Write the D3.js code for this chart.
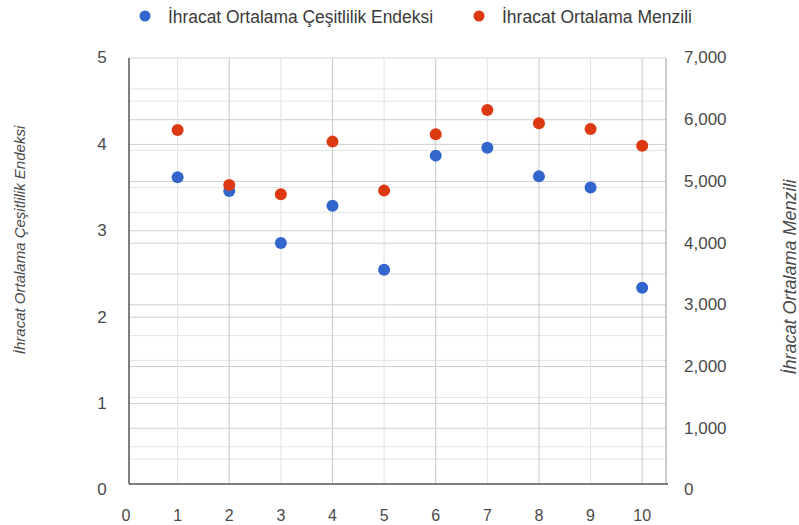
<!DOCTYPE html>
<html><head><meta charset="utf-8">
<script src="https://cdn.jsdelivr.net/npm/d3@7"></script>
<style>body{margin:0;background:#fff}svg{display:block}text{font-family:"Liberation Sans",Arial,sans-serif}</style>
</head><body>
<script>
const categories = [1,2,3,4,5,6,7,8,9,10];
const cesitlilik = [3.62,3.46,2.86,3.29,2.55,3.87,3.96,3.63,3.50,2.34];
const menzil = [5835,4943,4792,5645,4851,5765,6159,5943,5851,5580];
const xTicks = [0,1,2,3,4,5,6,7,8,9,10];
const leftTicks = [0,1,2,3,4,5];
const rightTicks = [0,1000,2000,3000,4000,5000,6000,7000];
const seriesNames = ["İhracat Ortalama Çeşitlilik Endeksi","İhracat Ortalama Menzili"];
const colors = ["#3366cc","#dc3912"];

(function(){
const W=799,H=525;
const svg=d3.select("body").append("svg").attr("width",W).attr("height",H);
const x=d3.scaleLinear().domain([0,10.5]).range([126,668]);
const yL=d3.scaleLinear().domain([0,5]).range([490,58]);
const yR=d3.scaleLinear().domain([0,7000]).range([490,58]);
const pL=129,pR=666,pT=58,pB=484;

const g=svg.append("g");
const minorL=d3.range(0.5,5,1), minorR=d3.range(500,7000,1000);
g.selectAll(".ml").data(minorL).join("line").attr("x1",pL).attr("x2",pR)
 .attr("y1",d=>yL(d)).attr("y2",d=>yL(d)).attr("stroke","#e4e4e4");
g.selectAll(".mr").data(minorR).join("line").attr("x1",pL).attr("x2",pR)
 .attr("y1",d=>yR(d)).attr("y2",d=>yR(d)).attr("stroke","#e4e4e4");
g.selectAll(".gl").data(leftTicks.slice(1,5)).join("line").attr("x1",pL).attr("x2",pR)
 .attr("y1",d=>yL(d)).attr("y2",d=>yL(d)).attr("stroke","#cfcfcf");
g.selectAll(".gr").data(rightTicks.slice(1,7)).join("line").attr("x1",pL).attr("x2",pR)
 .attr("y1",d=>yR(d)).attr("y2",d=>yR(d)).attr("stroke","#cfcfcf");
g.selectAll(".v").data(categories).join("line").attr("x1",d=>x(d)).attr("x2",d=>x(d))
 .attr("y1",pT).attr("y2",pB).attr("stroke",d=>d%2===0?"#c8c8c8":"#e2e2e2");
g.append("line").attr("x1",pL).attr("x2",pR).attr("y1",pT).attr("y2",pT).attr("stroke","#d6d6d6");
g.append("line").attr("x1",pR).attr("x2",pR).attr("y1",pT).attr("y2",pB).attr("stroke","#9a9a9a");
g.append("line").attr("x1",pL).attr("x2",pL).attr("y1",pT).attr("y2",pB).attr("stroke","#555").attr("stroke-width",1.5);
g.append("line").attr("x1",pL).attr("x2",pR+2).attr("y1",pB).attr("y2",pB).attr("stroke","#555").attr("stroke-width",1.5);

const tc="#4a4a4a";
svg.selectAll(".tx").data(xTicks).join("text").attr("x",d=>x(d)).attr("y",521)
 .attr("text-anchor","middle").attr("font-size",16).attr("fill",tc).text(d=>d);
svg.selectAll(".tl").data(leftTicks).join("text").attr("x",102).attr("y",d=>yL(d)+1)
 .attr("text-anchor","middle").attr("dominant-baseline","middle").attr("font-size",17).attr("fill",tc).text(d=>d);
const fmt=d3.format(",");
svg.selectAll(".tr").data(rightTicks).join("text").attr("x",684).attr("y",d=>yR(d)+1)
 .attr("text-anchor","start").attr("dominant-baseline","middle").attr("font-size",17).attr("fill",tc).text(d=>fmt(d));

svg.append("text").attr("transform","translate(25,240) rotate(-90)").attr("text-anchor","middle")
 .attr("font-size",15).attr("font-style","italic").attr("fill",tc).text("İhracat Ortalama Çeşitlilik Endeksi");
svg.append("text").attr("transform","translate(796,277) rotate(-90)").attr("text-anchor","middle")
 .attr("font-size",18).attr("font-style","italic").attr("fill",tc).text("İhracat Ortalama Menzili");

svg.selectAll(".pb").data(categories).join("circle").attr("cx",d=>x(d)).attr("cy",(d,i)=>yL(cesitlilik[i]))
 .attr("r",6).attr("fill",colors[0]);
svg.selectAll(".pr").data(categories).join("circle").attr("cx",d=>x(d)).attr("cy",(d,i)=>yR(menzil[i]))
 .attr("r",6).attr("fill",colors[1]);

const lx=[145,479], lw=[265,190];
seriesNames.forEach((n,i)=>{
  svg.append("circle").attr("cx",lx[i]).attr("cy",16).attr("r",5.5).attr("fill",colors[i]);
  svg.append("text").attr("x",lx[i]+23).attr("y",22.5).attr("font-size",17.5).attr("fill","#3a3a3a")
    .attr("textLength",lw[i]).attr("lengthAdjust","spacingAndGlyphs").text(n);
});
})();
</script>
</body></html>
